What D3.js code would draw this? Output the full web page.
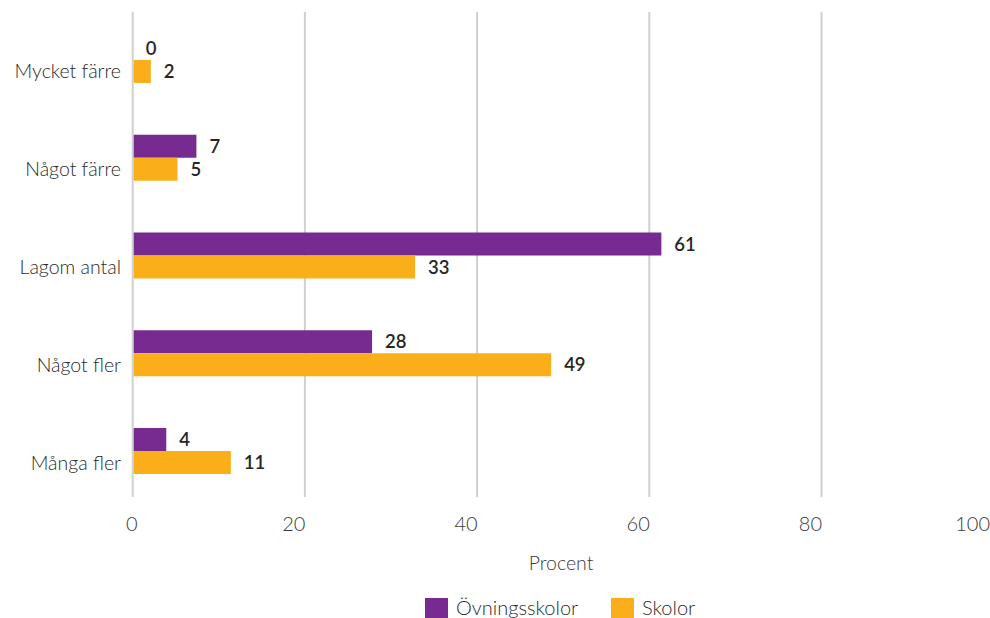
<!DOCTYPE html>
<html><head><meta charset="utf-8">
<script src="https://cdn.jsdelivr.net/npm/d3@7"></script>
<style>
body{margin:0;background:#fff;}
svg{display:block;font-family:Lato, "Noto Sans", sans-serif;}
</style></head>
<body><svg id="c" width="990" height="618"></svg>
<script>
const categories = ["Mycket färre","Något färre","Lagom antal","Något fler","Många fler"];
const seriesNames = ["Övningsskolor","Skolor"];
const ovningsskolor = [0,7.4,61.4,27.8,3.9];
const skolor = [2.1,5.2,32.8,48.6,11.4];
const xTicks = [0,20,40,60,80,100];
const colors = ["#772a8f","#f9ae1a"];

const svg = d3.select("#c");
const x = d3.scaleLinear().domain([0,100]).range([132.7,993.7]);
const y = d3.scaleBand().domain(categories).range([11.1,499.9]);
const barH = 23;
const fmt = d3.format(".0f");

// gridlines
svg.append("g").selectAll("line").data(xTicks).join("line")
  .attr("x1",d=>x(d)).attr("x2",d=>x(d))
  .attr("y1",12).attr("y2",497)
  .attr("stroke","#d0d0d0").attr("stroke-width",2);

// tick labels
svg.append("g").selectAll("text").data(xTicks).join("text")
  .attr("x",d=>d===0? x(d)-1 : (d===100 ? 990 : x(d)+0.5))
  .attr("y",531)
  .attr("text-anchor",d=>d===0?"middle":"end")
  .attr("font-size",20).attr("font-weight",300).attr("fill","#3a3a3a")
  .text(d=>d);

// category labels
svg.append("g").selectAll("text").data(categories).join("text")
  .attr("x",121)
  .attr("y",d=>y(d)+y.bandwidth()/2+barH/2+7)
  .attr("text-anchor","end")
  .attr("font-size",19.5).attr("font-weight",300).attr("fill","#2a2a2a")
  .text(d=>d);

const series = [ovningsskolor, skolor];
series.forEach((vals,si)=>{
  const g = svg.append("g");
  g.selectAll("rect").data(categories).join("rect")
    .attr("x",x(0)+1)
    .attr("y",d=>y(d)+y.bandwidth()/2 - barH + si*barH)
    .attr("width",(d,i)=>Math.max(0,x(vals[i])-x(0)-1))
    .attr("height",barH)
    .attr("fill",colors[si]);
  g.selectAll("text").data(categories).join("text")
    .attr("x",(d,i)=>x(vals[i])+13)
    .attr("y",d=>y(d)+y.bandwidth()/2 - barH + si*barH + barH/2 + 6.5)
    .attr("font-size",18.5).attr("font-weight",600).attr("fill","#262626")
    .text((d,i)=>fmt(vals[i]));
});

// axis title
svg.append("text").attr("x",561).attr("y",570).attr("text-anchor","middle")
  .attr("font-size",19.5).attr("font-weight",300).attr("fill","#3a3a3a").text("Procent");

// legend
const legX = [425,611];
seriesNames.forEach((n,i)=>{
  svg.append("rect").attr("x",legX[i]).attr("y",598).attr("width",23).attr("height",23).attr("fill",colors[i]);
  svg.append("text").attr("x",legX[i]+31).attr("y",615).attr("font-size",20).attr("font-weight",300).attr("fill","#2a2a2a").text(n);
});
</script></body></html>
